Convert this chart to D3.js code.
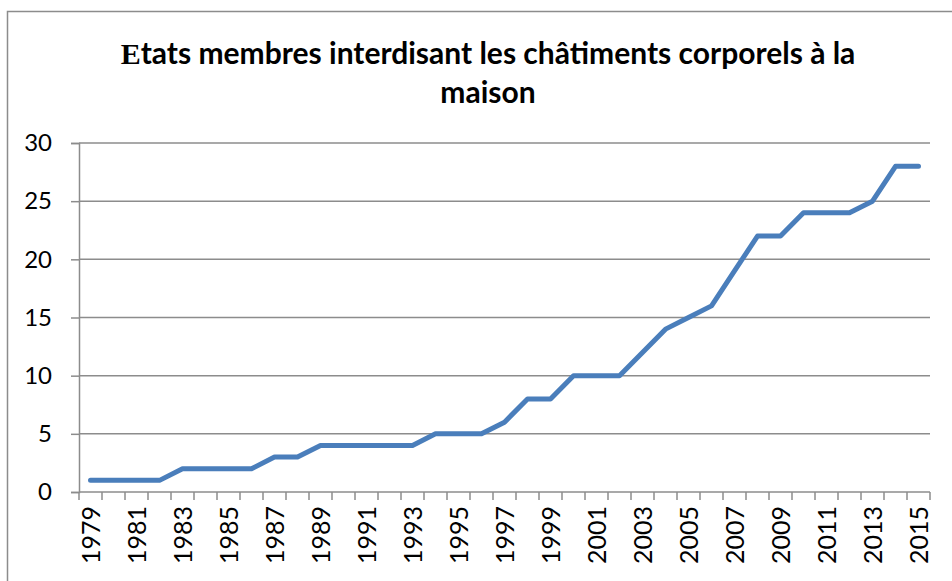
<!DOCTYPE html>
<html>
<head>
<meta charset="utf-8">
<script src="https://cdn.jsdelivr.net/npm/d3@7"></script>
<style>
  body { margin: 0; background: #fff; }
  svg { display: block; }
</style>
</head>
<body>
<svg id="chart" width="952" height="581"></svg>
<script>
const years = d3.range(1979, 2016).map(String);
const etats = [1, 1, 1, 1, 2, 2, 2, 2, 3, 3, 4, 4, 4, 4, 4, 5, 5, 5, 6, 8, 8, 10, 10, 10, 12, 14, 15, 16, 19, 22, 22, 24, 24, 24, 25, 28, 28];
const yTicks = [0, 5, 10, 15, 20, 25, 30];
const titleLines = ["Etats membres interdisant les châtiments corporels à la", "maison"];

const svg = d3.select("svg#chart");
const width = 952, height = 581;
const margin = { top: 143, right: 22, bottom: 89, left: 79 };
const innerW = width - margin.left - margin.right;
const innerH = height - margin.top - margin.bottom;

// chart frame
svg.append("path")
  .attr("d", `M7.5,${height} V11.5 H${width}`)
  .attr("fill", "none")
  .attr("stroke", "#8c8c8c")
  .attr("stroke-width", 1.5);

// title (first letter in a serif face, as in the original)
const title = svg.append("text")
  .attr("text-anchor", "middle")
  .attr("font-family", "Lato, 'Open Sans', sans-serif")
  .attr("font-weight", "bold")
  .attr("font-size", 30)
  .attr("fill", "#000");
const t1 = title.append("tspan").attr("x", 488).attr("y", 64);
t1.append("tspan").attr("font-family", "'Liberation Serif', serif").text(titleLines[0][0]);
t1.append("tspan").text(titleLines[0].slice(1));
title.append("tspan").attr("x", 488).attr("y", 103).text(titleLines[1]);

const g = svg.append("g")
  .attr("transform", `translate(${margin.left},${margin.top})`);

const x = d3.scaleBand()
  .domain(years)
  .range([0, innerW]);

const y = d3.scaleLinear()
  .domain([0, 30])
  .range([innerH, 0]);

// gridlines + y axis
const yAxis = g.append("g")
  .call(d3.axisLeft(y).tickValues(yTicks).tickSize(8).tickPadding(19));
yAxis.select(".domain").attr("stroke", "#8c8c8c").attr("stroke-width", 1.5);
yAxis.selectAll(".tick line").attr("stroke", "#8c8c8c").attr("stroke-width", 1.5);
yAxis.selectAll(".tick text")
  .attr("font-family", "Lato, sans-serif")
  .attr("font-size", 24)
  .attr("fill", "#000");

g.append("g")
  .selectAll("line")
  .data(yTicks.filter(d => d > 0))
  .join("line")
  .attr("x1", 0)
  .attr("x2", innerW)
  .attr("y1", d => y(d))
  .attr("y2", d => y(d))
  .attr("stroke", "#8c8c8c")
  .attr("stroke-width", 1.5);

// x axis: ticks on band boundaries
const xAxis = g.append("g").attr("transform", `translate(0,${innerH})`);
xAxis.append("line")
  .attr("x1", 0).attr("x2", innerW)
  .attr("stroke", "#8c8c8c").attr("stroke-width", 1.5);
xAxis.selectAll(".bt")
  .data(years.concat(["end"]))
  .join("line")
  .attr("class", "bt")
  .attr("x1", (d, i) => i < years.length ? x(d) : innerW)
  .attr("x2", (d, i) => i < years.length ? x(d) : innerW)
  .attr("y1", 0).attr("y2", 8)
  .attr("stroke", "#8c8c8c").attr("stroke-width", 1.5);
xAxis.selectAll(".lbl")
  .data(years.filter((d, i) => i % 2 === 0))
  .join("text")
  .attr("class", "lbl")
  .attr("transform", d => `translate(${x(d) + x.bandwidth() / 2 + 9},14) rotate(-90)`)
  .attr("text-anchor", "end")
  .attr("font-family", "Lato, sans-serif")
  .attr("font-size", 25)
  .attr("fill", "#000")
  .text(d => d);

// line
const line = d3.line()
  .x((d, i) => x(years[i]) + x.bandwidth() / 2)
  .y(d => y(d));

g.append("path")
  .datum(etats)
  .attr("d", line)
  .attr("fill", "none")
  .attr("stroke", "#4a7ebb")
  .attr("stroke-width", 5)
  .attr("stroke-linejoin", "round")
  .attr("stroke-linecap", "round");
</script>
</body>
</html>
